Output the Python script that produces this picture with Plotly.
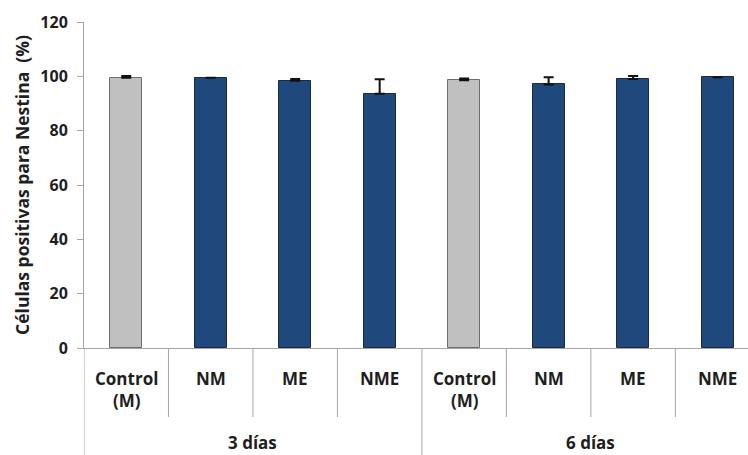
import plotly.graph_objects as go

# Nestin-positive cells (%) per condition, at 3 and 6 days of culture
groups = ["3 días", "6 días"]
conditions = ["Control<br>(M)", "NM", "ME", "NME"]
values = [99.5, 99.5, 98.4, 93.6, 98.6, 97.0, 99.0, 99.7]
errors = [0.6, 0.0, 0.6, 5.3, 0.6, 2.7, 1.1, 0.0]
bar_colors = ["#C0C0C0", "#1F497D", "#1F497D", "#1F497D"] * 2
line_colors = ["#6E6E6E", "#1A2A40", "#1A2A40", "#1A2A40"] * 2
y_ticks = [0, 20, 40, 60, 80, 100, 120]

FONT = "Open Sans"
TXT = "#1E1E1E"
W, H = 748, 455
M_L, M_R, M_T, M_B = 84, 0, 22, 107
plot_h = H - M_T - M_B

n = len(values)
xs = list(range(n))

fig = go.Figure(
    go.Bar(
        x=xs,
        y=values,
        width=0.38,
        marker=dict(color=bar_colors, line=dict(color=line_colors, width=1)),
        # only the upper whisker is shown
        error_y=dict(type="data", symmetric=False, array=errors,
                     arrayminus=[0] * len(errors), visible=True,
                     color="#111111", thickness=2, width=5),
    )
)


def py(px_below):
    """Paper y for a pixel offset below the x axis line."""
    return -px_below / plot_h


shapes = []
# dividers between conditions; group edges run to the bottom
for i in range(n + 1):
    is_group_edge = (i % len(conditions) == 0)
    shapes.append(dict(
        type="line", xref="x", yref="paper",
        x0=i - 0.5, x1=i - 0.5, y0=0,
        y1=py(H - M_T - plot_h) if is_group_edge else py(69),
        line=dict(color="#A6A6A6", width=1),
    ))

annotations = []
for i in xs:
    annotations.append(dict(
        x=i, xref="x", y=py(17), yref="paper", yanchor="top",
        text=conditions[i % len(conditions)], showarrow=False,
        font=dict(family=FONT, size=17, color=TXT, weight="bold"),
    ))
for g, name in enumerate(groups):
    center = g * len(conditions) + (len(conditions) - 1) / 2
    annotations.append(dict(
        x=center, xref="x", y=py(95), yref="paper", yanchor="middle",
        text=name, showarrow=False,
        font=dict(family=FONT, size=17, color=TXT, weight="bold"),
    ))

fig.update_layout(
    width=W, height=H,
    margin=dict(l=M_L, r=M_R, t=M_T, b=M_B),
    paper_bgcolor="white", plot_bgcolor="white",
    showlegend=False,
    bargap=0,
    shapes=shapes,
    annotations=annotations,
    xaxis=dict(
        range=[-0.5, n - 0.5 - 0.14],
        showticklabels=False, ticks="", showgrid=False, zeroline=False,
        showline=True, linecolor="#A6A6A6", linewidth=1,
    ),
    yaxis=dict(
        range=[0, 120], tickvals=y_ticks,
        showgrid=False, zeroline=False,
        showline=True, linecolor="#A6A6A6", linewidth=1,
        ticks="outside", ticklen=6, tickcolor="#A6A6A6",
        ticklabelstandoff=6,
        tickfont=dict(family=FONT, size=16, color=TXT, weight="bold"),
        title=dict(text="Células positivas para Nestina  (%)", standoff=6,
                   font=dict(family=FONT, size=17.5, color=TXT, weight="bold")),
    ),
)

fig.write_html("out.html")
